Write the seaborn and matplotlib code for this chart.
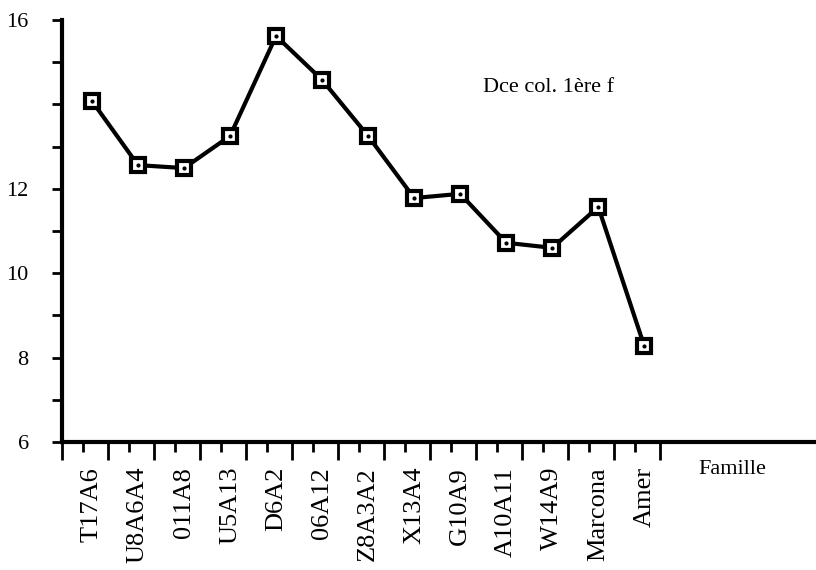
import numpy as np
import pandas as pd
import matplotlib
matplotlib.use("Agg")
import matplotlib.pyplot as plt
import seaborn as sns

# Familles et valeurs
familles = ['T17A6', 'U8A6A4', '011A8', 'U5A13', 'D6A2', '06A12', 'Z8A3A2',
            'X13A4', 'G10A9', 'A10A11', 'W14A9', 'Marcona', 'Amer']
valeurs = [14.08, 12.56, 12.49, 13.25, 15.62, 14.58, 13.25,
           11.78, 11.88, 10.72, 10.60, 11.57, 8.27]
y_ticks = [6, 8, 10, 12, 14, 16]
y_labels = ['6', '8', '10', '12', '', '16']

df = pd.DataFrame({'pos': np.arange(len(familles)), 'val': valeurs})

sns.set_style("white")
plt.rcParams['font.family'] = ['Liberation Serif', 'DejaVu Serif']
plt.rcParams['text.color'] = 'black'
plt.rcParams['xtick.color'] = 'black'
plt.rcParams['ytick.color'] = 'black'

fig = plt.figure(figsize=(8.16, 5.70), dpi=100)
ax = fig.add_axes([0.076, 0.2246, 0.924, 0.7404])

sns.lineplot(data=df, x='pos', y='val', ax=ax, color='black', lw=3,
             marker='s', markersize=10, markerfacecolor='white',
             markeredgecolor='black', markeredgewidth=3)
ax.scatter(df['pos'], df['val'], s=4, color='black', zorder=5)

ax.set_xlim(-0.63, 15.73)
ax.set_ylim(6, 16)

# etiquettes des familles
ax.set_xticks(df['pos'])
ax.set_xticklabels(familles, rotation=90, fontsize=19)
ax.tick_params(axis='x', which='major', bottom=True, length=0, pad=18)
ax.set_xticks(np.arange(-1, len(familles)) + 0.35, minor=True)
ax.tick_params(axis='x', which='minor', bottom=True, length=13, width=2,
               direction='out')

sec = ax.secondary_xaxis('bottom')
sec.set_xticks(df['pos'] - 0.2)
sec.tick_params(bottom=True, length=7, width=2, labelbottom=False)
sec.spines['bottom'].set_visible(False)

ax.set_yticks(y_ticks)
ax.set_yticklabels(y_labels, fontsize=16)
ax.set_yticks(np.arange(7, 16, 2), minor=True)
ax.tick_params(axis='y', which='both', left=True, length=7, width=2,
               direction='out', pad=17)

for s in ['top', 'right']:
    ax.spines[s].set_visible(False)
for s in ['left', 'bottom']:
    ax.spines[s].set_linewidth(3)
    ax.spines[s].set_color('black')

ax.set_xlabel('')
ax.set_ylabel('')
ax.text(698 / 816, 1 - 470 / 570, 'Famille', transform=fig.transFigure,
        fontsize=16, ha='left', va='center')
ax.text(483 / 816, 1 - 87 / 570, 'Dce col. 1ère f', transform=fig.transFigure,
        fontsize=16, ha='left', va='center')

fig.savefig('out.png', dpi=100)
